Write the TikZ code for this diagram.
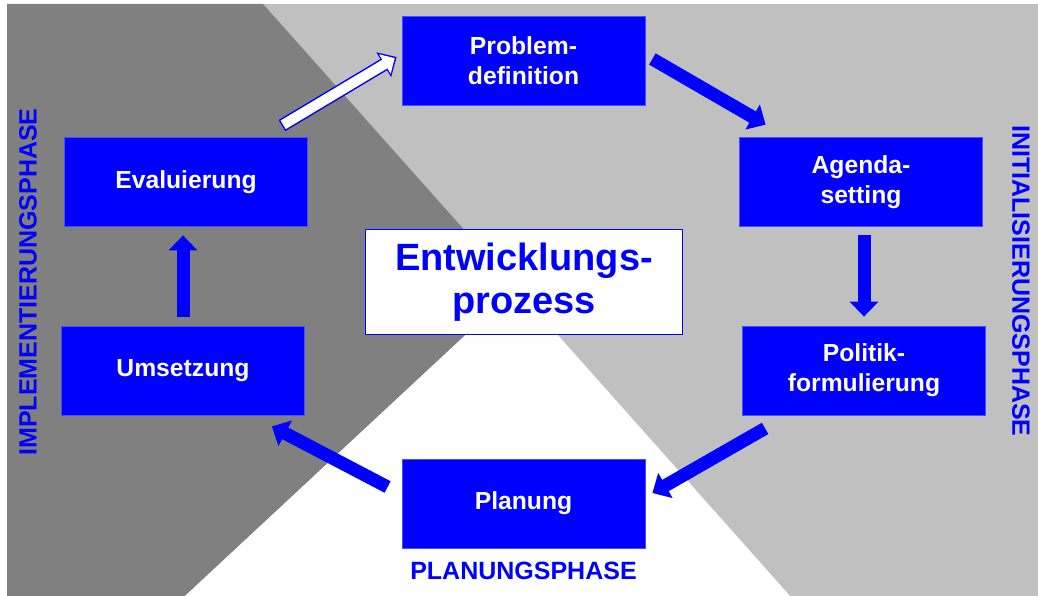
\documentclass[tikz,border=0pt]{standalone}
\usepackage{fontspec}
\setmainfont{Liberation Sans}
\usetikzlibrary{arrows.meta,calc}

\definecolor{darkbg}{HTML}{808080}
\definecolor{lightbg}{HTML}{C0C0C0}
\definecolor{boxblue}{HTML}{0000FF}

\tikzset{
  stage/.style={fill=boxblue, draw=boxblue!70!white, line width=0.8pt,
    minimum width=243pt, minimum height=89pt, inner sep=0pt, align=center,
    text=white, font=\fontsize{24.7}{30}\selectfont\bfseries},
  phase/.style={text=boxblue, inner sep=0pt, font=\fontsize{25}{30}\selectfont\bfseries},
  flow/.style={boxblue, line width=13pt, -{Triangle[length=15pt,width=28pt]}},
  hollowflow/.style={white, line width=10pt, shorten >=2.2pt, shorten <=1.5pt,
    -{Triangle[length=11.5pt,width=22pt]}},
}

\begin{document}
\begin{tikzpicture}[x=1pt,y=1pt]
  \useasboundingbox (0,0) rectangle (1038,596);
  \fill[lightbg] (7,0) rectangle (1038,592);
  \fill[darkbg] (7,592) -- (263,592) -- (516,308) -- (185,0) -- (7,0) -- cycle;
  \fill[white] (516,308) -- (790,0) -- (185,0) -- cycle;

  \node[stage] (problem) at (523.5,535) {Problem-\\definition};
  \node[stage] (agenda) at (861,414) {Agenda-\\setting};
  \node[stage] (politik) at (864,225.5) {Politik-\\formulierung};
  \node[stage] (planung) at (523.5,92.5) {Planung};
  \node[stage] (umsetzung) at (183,225.5) {Umsetzung};
  \node[stage] (evaluierung) at (186,414) {Evaluierung};

  \node[draw=boxblue, line width=1.6pt, fill=white, minimum width=317pt,
    minimum height=105pt, inner sep=0pt, align=center, text=boxblue,
    font=\fontsize{38}{43}\selectfont\bfseries] (prozess) at (524,314)
    {Entwicklungs-\\prozess};

  \node[phase, rotate=90] (implphase) at (28,314) {IMPLEMENTIERUNGSPHASE};
  \node[phase, rotate=-90] (initphase) at (1021,315) {INITIALISIERUNGSPHASE};
  \node[phase, anchor=base] (planphase) at ([yshift=-31pt]planung.south) {PLANUNGSPHASE};

  % cycle of stages
  \draw[flow] ($(problem.east)+(7,2)$) -- ($(agenda.north west)+(26.5,12.5)$);
  \draw[flow] ($(politik.north |- agenda.south)+(0,-8)$) -- ($(politik.north)+(0,9)$);
  \draw[flow] ($(politik.south west)+(23,-13)$) -- ($(planung.east)+(7,10.5)$);
  \draw[flow] ($(planung.west)+(-14,16.5)$) -- ($(umsetzung.south east)+(-33,-11)$);
  \draw[flow] ($(umsetzung.north)+(0,9)$) -- ($(umsetzung.north |- evaluierung.south)+(0,-8.5)$);
  \draw[flow] ($(evaluierung.north east)+(-26,11.5)$) -- ($(problem.west)+(-5,4)$);
  \draw[hollowflow] ($(evaluierung.north east)+(-26,11.5)$) -- ($(problem.west)+(-5,4)$);
\end{tikzpicture}
\end{document}
